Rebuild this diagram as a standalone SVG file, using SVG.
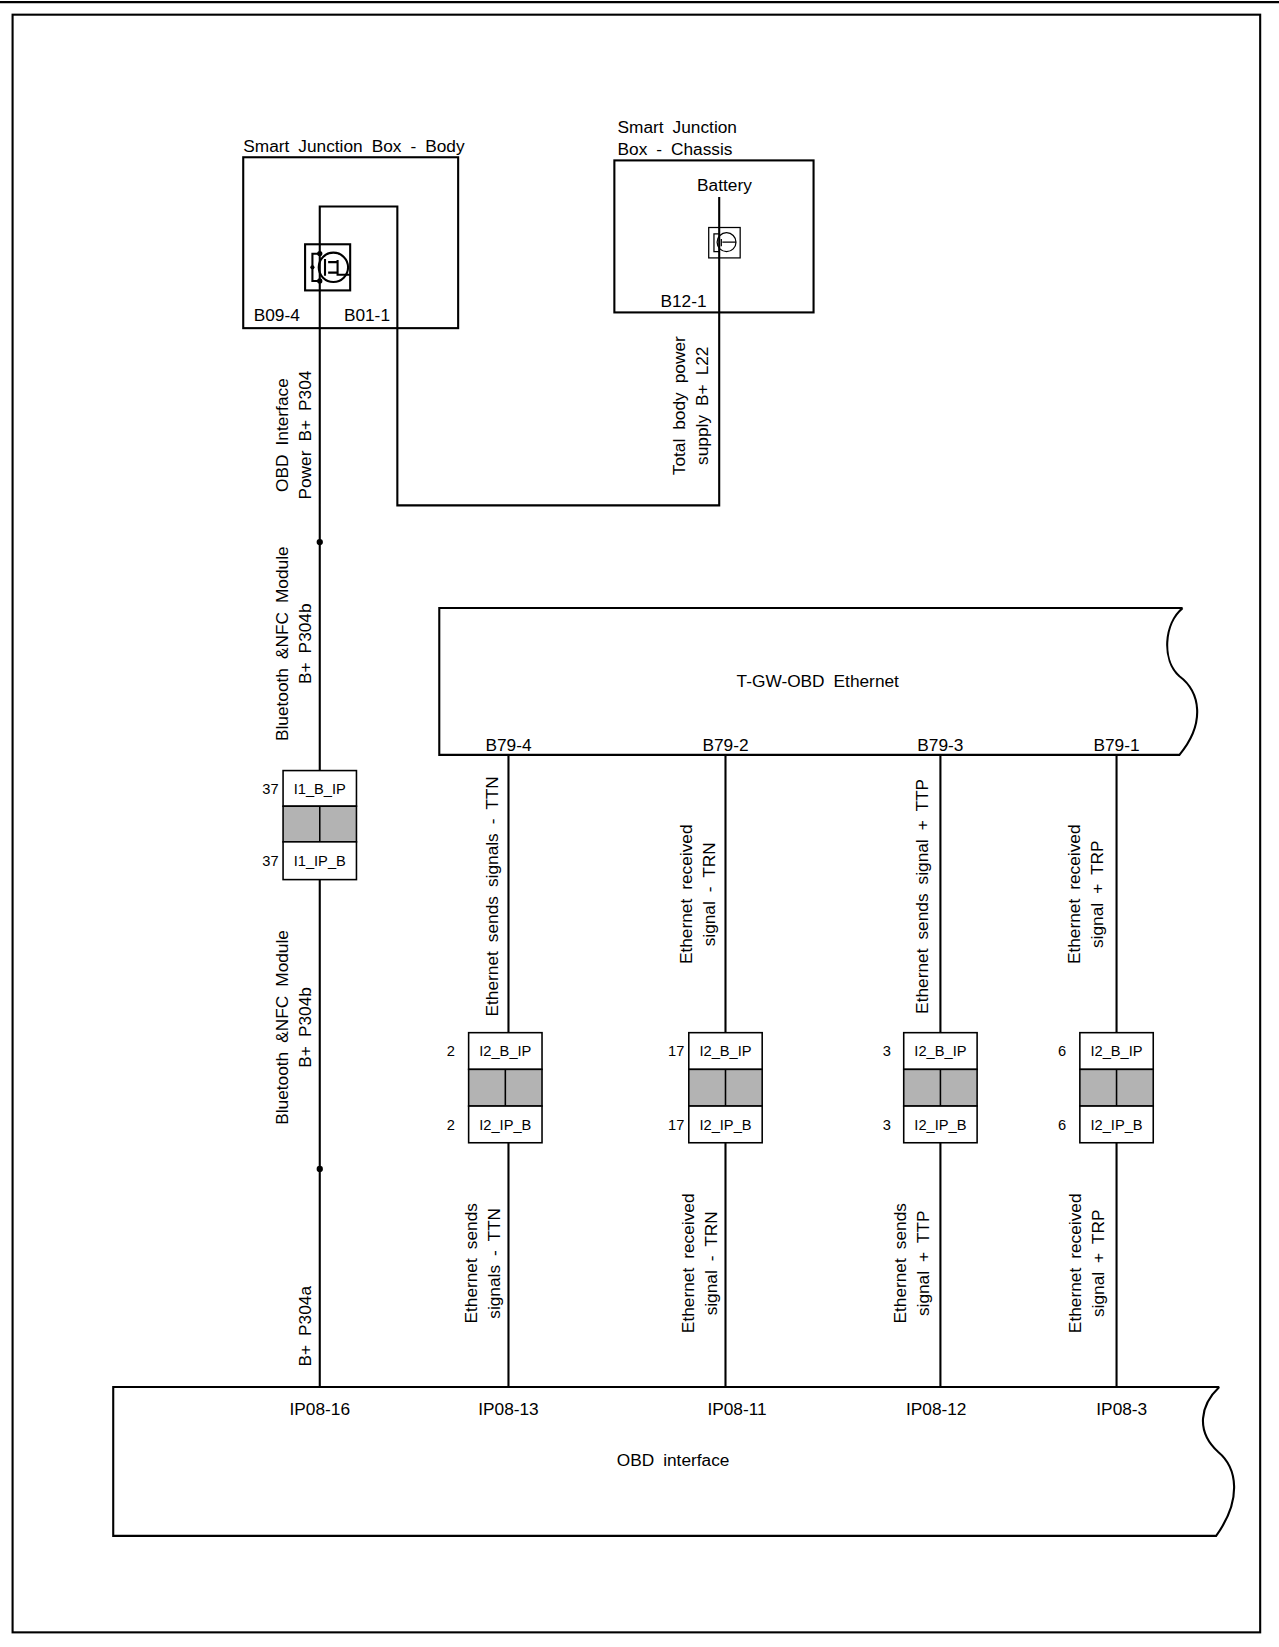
<svg xmlns="http://www.w3.org/2000/svg" width="1279" height="1647" viewBox="0 0 1279 1647">
<style>
.l{fill:none;stroke:#000;stroke-width:2}
.t{font-family:"Liberation Sans",Arial,sans-serif;font-size:16.5px;fill:#000;word-spacing:4px}
.s{font-family:"Liberation Sans",Arial,sans-serif;font-size:14px;fill:#000}
.m{text-anchor:middle}
.g{fill:#b3b3b3;stroke:#000;stroke-width:1.5}
.w{fill:#fff;stroke:#000;stroke-width:1.5}
</style>
<rect width="1279" height="1647" fill="#fff"/>
<g transform="scale(1.0484)">
<line x1="0" y1="2" x2="1220" y2="2" stroke="#000" stroke-width="2"/>
<rect x="12" y="14" width="1190" height="1543" class="l"/>
<g id="connectors">
<polyline class="l" points="305,1323 305,197 379,197 379,482 686,482 686,188"/>
<line class="l" x1="485" y1="720" x2="485" y2="1323"/>
<line class="l" x1="692" y1="720" x2="692" y2="1323"/>
<line class="l" x1="897" y1="720" x2="897" y2="1323"/>
<line class="l" x1="1065" y1="720" x2="1065" y2="1323"/>
<circle cx="305" cy="517" r="3"/>
<circle cx="305" cy="1115" r="3"/>
<g class="t">
<text transform="translate(275,415) rotate(-90)" class="m">OBD Interface</text>
<text transform="translate(297,415) rotate(-90)" class="m">Power B+ P304</text>
<text transform="translate(275,614) rotate(-90)" class="m">Bluetooth &amp;NFC Module</text>
<text transform="translate(297,614) rotate(-90)" class="m">B+ P304b</text>
<text transform="translate(275,980) rotate(-90)" class="m">Bluetooth &amp;NFC Module</text>
<text transform="translate(297,980) rotate(-90)" class="m">B+ P304b</text>
<text transform="translate(297,1265) rotate(-90)" class="m">B+ P304a</text>
<text transform="translate(653,387) rotate(-90)" class="m">Total body power</text>
<text transform="translate(675,387) rotate(-90)" class="m">supply B+ L22</text>
<text transform="translate(475,855) rotate(-90)" class="m">Ethernet sends signals - TTN</text>
<text transform="translate(660,853) rotate(-90)" class="m">Ethernet received</text>
<text transform="translate(682,853) rotate(-90)" class="m">signal - TRN</text>
<text transform="translate(885,855) rotate(-90)" class="m">Ethernet sends signal + TTP</text>
<text transform="translate(1030,853) rotate(-90)" class="m">Ethernet received</text>
<text transform="translate(1052,853) rotate(-90)" class="m">signal + TRP</text>
<text transform="translate(455,1205) rotate(-90)" class="m">Ethernet sends</text>
<text transform="translate(477,1205) rotate(-90)" class="m">signals - TTN</text>
<text transform="translate(662,1205) rotate(-90)" class="m">Ethernet received</text>
<text transform="translate(684,1205) rotate(-90)" class="m">signal - TRN</text>
<text transform="translate(864,1205) rotate(-90)" class="m">Ethernet sends</text>
<text transform="translate(886,1205) rotate(-90)" class="m">signal + TTP</text>
<text transform="translate(1031,1205) rotate(-90)" class="m">Ethernet received</text>
<text transform="translate(1053,1205) rotate(-90)" class="m">signal + TRP</text>
</g>
</g>
<g id="sjb-body">
<rect x="232" y="150" width="205" height="163" class="l"/>
<text x="232" y="145" class="t">Smart Junction Box - Body</text>
<rect x="291" y="233" width="43" height="44" class="l"/>
<circle cx="318" cy="255" r="14" class="l"/>
<path class="l" stroke-width="1.5" d="M305,242 H298 V268 H305 M310,247 V263 M313,250 H322 M313,260 H322 M322,248 V262 H334"/>
<circle cx="305" cy="242" r="2.5"/><circle cx="305" cy="268" r="2.5"/><circle cx="298" cy="255" r="2"/>
<text x="242" y="306" class="t">B09-4</text>
<text x="328" y="306" class="t">B01-1</text>
</g>
<g id="sjb-chassis">
<rect x="586" y="153" width="190" height="145" class="l"/>
<text x="589" y="127" class="t">Smart Junction</text>
<text x="589" y="148" class="t">Box - Chassis</text>
<text x="691" y="182" class="t m">Battery</text>
<rect x="676" y="217" width="30" height="29" fill="none" stroke="#000" stroke-width="1.2"/>
<circle cx="693" cy="231" r="9" fill="none" stroke="#000" stroke-width="1.2"/>
<path fill="none" stroke="#000" stroke-width="1.2" d="M686,223 H681 V240 H686 M688,228 V235 M689,231 H702"/>
<text x="630" y="293" class="t">B12-1</text>
</g>
<g id="i1">
<rect x="270" y="735" width="70" height="34" class="w"/>
<rect x="270" y="769" width="70" height="34" class="g"/>
<line x1="305" y1="769" x2="305" y2="803" stroke="#000" stroke-width="1.5"/>
<rect x="270" y="803" width="70" height="36" class="w"/>
<text x="305" y="757" class="s m">I1_B_IP</text>
<text x="305" y="826" class="s m">I1_IP_B</text>
<text x="258" y="757" class="s m">37</text>
<text x="258" y="826" class="s m">37</text>
</g>
<g id="tgw">
<path class="l" d="M1128,580 H419 V720 H1125 C1150,690 1145,660 1125,645 C1108,630 1110,595 1128,580"/>
<text x="780" y="655" class="t m">T-GW-OBD Ethernet</text>
<text x="485" y="716" class="t m">B79-4</text>
<text x="692" y="716" class="t m">B79-2</text>
<text x="897" y="716" class="t m">B79-3</text>
<text x="1065" y="716" class="t m">B79-1</text>
</g>
<g id="i2-1">
<rect x="447" y="985" width="70" height="35" class="w"/><rect x="447" y="1020" width="70" height="35" class="g"/><line x1="482" y1="1020" x2="482" y2="1055" stroke="#000" stroke-width="1.5"/><rect x="447" y="1055" width="70" height="35" class="w"/>
<text x="482" y="1007" class="s m">I2_B_IP</text><text x="482" y="1078" class="s m">I2_IP_B</text>
<text x="430" y="1007" class="s m">2</text><text x="430" y="1078" class="s m">2</text>
</g>
<g id="i2-2">
<rect x="657" y="985" width="70" height="35" class="w"/><rect x="657" y="1020" width="70" height="35" class="g"/><line x1="692" y1="1020" x2="692" y2="1055" stroke="#000" stroke-width="1.5"/><rect x="657" y="1055" width="70" height="35" class="w"/>
<text x="692" y="1007" class="s m">I2_B_IP</text><text x="692" y="1078" class="s m">I2_IP_B</text>
<text x="645" y="1007" class="s m">17</text><text x="645" y="1078" class="s m">17</text>
</g>
<g id="i2-3">
<rect x="862" y="985" width="70" height="35" class="w"/><rect x="862" y="1020" width="70" height="35" class="g"/><line x1="897" y1="1020" x2="897" y2="1055" stroke="#000" stroke-width="1.5"/><rect x="862" y="1055" width="70" height="35" class="w"/>
<text x="897" y="1007" class="s m">I2_B_IP</text><text x="897" y="1078" class="s m">I2_IP_B</text>
<text x="846" y="1007" class="s m">3</text><text x="846" y="1078" class="s m">3</text>
</g>
<g id="i2-4">
<rect x="1030" y="985" width="70" height="35" class="w"/><rect x="1030" y="1020" width="70" height="35" class="g"/><line x1="1065" y1="1020" x2="1065" y2="1055" stroke="#000" stroke-width="1.5"/><rect x="1030" y="1055" width="70" height="35" class="w"/>
<text x="1065" y="1007" class="s m">I2_B_IP</text><text x="1065" y="1078" class="s m">I2_IP_B</text>
<text x="1013" y="1007" class="s m">6</text><text x="1013" y="1078" class="s m">6</text>
</g>
<g id="obd">
<path class="l" d="M1163,1323 H108 V1465 H1160 C1185,1430 1180,1400 1162,1385 C1140,1365 1145,1340 1163,1323"/>
<text x="642" y="1398" class="t m">OBD interface</text>
<text x="305" y="1350" class="t m">IP08-16</text>
<text x="485" y="1350" class="t m">IP08-13</text>
<text x="703" y="1350" class="t m">IP08-11</text>
<text x="893" y="1350" class="t m">IP08-12</text>
<text x="1070" y="1350" class="t m">IP08-3</text>
</g>
</g>
</svg>
